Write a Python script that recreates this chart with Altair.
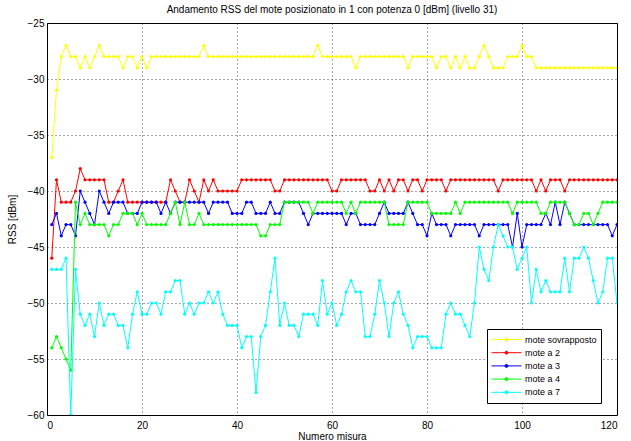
import altair as alt
import pandas as pd

misura = list(range(1, 121))

series_names = ["mote sovrapposto", "mote a 2", "mote a 3", "mote a 4", "mote a 7"]
series_colors = ["#ffff00", "#ff0000", "#0000ff", "#00ff00", "#00ffff"]

mote_sovrapposto = [
    -37, -31, -28, -27, -28, -28, -29, -28, -29, -28,
    -27, -28, -28, -28, -28, -29, -28, -28, -29, -28,
    -29, -28, -28, -28, -28, -28, -28, -28, -28, -28,
    -28, -28, -27, -28, -28, -28, -28, -28, -28, -28,
    -28, -28, -28, -28, -28, -28, -28, -28, -28, -28,
    -28, -28, -28, -28, -28, -28, -27, -28, -28, -28,
    -28, -28, -28, -28, -29, -28, -28, -28, -28, -28,
    -28, -28, -28, -28, -28, -29, -28, -28, -28, -28,
    -28, -29, -28, -28, -29, -28, -29, -28, -29, -29,
    -28, -27, -28, -29, -29, -29, -28, -28, -28, -27,
    -28, -28, -29, -29, -29, -29, -29, -29, -29, -29,
    -29, -29, -29, -29, -29, -29, -29, -29, -29, -29,
]

mote_a_2 = [
    -46, -39, -41, -41, -41, -40, -38, -39, -39, -39,
    -39, -39, -41, -41, -40, -39, -41, -41, -41, -41,
    -41, -41, -41, -41, -41, -39, -40, -41, -41, -39,
    -40, -41, -39, -40, -39, -40, -40, -40, -40, -40,
    -39, -39, -39, -39, -39, -39, -39, -40, -40, -39,
    -39, -39, -39, -39, -39, -39, -39, -39, -39, -40,
    -40, -39, -39, -39, -39, -39, -39, -40, -40, -39,
    -40, -39, -40, -39, -39, -40, -39, -39, -40, -39,
    -39, -39, -39, -40, -39, -39, -39, -39, -39, -39,
    -39, -39, -39, -39, -40, -39, -39, -39, -39, -39,
    -39, -39, -40, -39, -40, -39, -39, -39, -40, -39,
    -39, -39, -39, -39, -39, -39, -39, -39, -39, -39,
]

mote_a_3 = [
    -43, -42, -44, -43, -43, -44, -40, -41, -42, -43,
    -40, -41, -42, -41, -41, -41, -42, -42, -42, -41,
    -41, -41, -41, -42, -41, -42, -41, -41, -41, -41,
    -41, -41, -41, -42, -41, -41, -41, -41, -42, -42,
    -42, -41, -41, -42, -42, -42, -41, -42, -42, -41,
    -41, -41, -41, -42, -43, -42, -42, -42, -42, -42,
    -42, -42, -43, -42, -42, -43, -43, -43, -43, -42,
    -41, -42, -42, -42, -42, -41, -42, -43, -43, -44,
    -42, -43, -43, -43, -44, -43, -43, -43, -43, -43,
    -44, -43, -43, -43, -43, -43, -43, -45, -42, -45,
    -43, -43, -43, -43, -42, -43, -41, -43, -41, -42,
    -43, -43, -43, -43, -43, -43, -43, -43, -44, -43,
]

mote_a_4 = [
    -54, -53, -54, -55, -56, -41, -43, -42, -43, -43,
    -43, -43, -44, -43, -43, -42, -42, -42, -43, -42,
    -43, -43, -43, -43, -43, -42, -41, -43, -41, -43,
    -43, -42, -43, -43, -43, -43, -43, -43, -43, -43,
    -43, -43, -43, -43, -44, -44, -43, -43, -43, -41,
    -41, -41, -41, -41, -41, -42, -41, -41, -41, -41,
    -41, -41, -42, -41, -42, -41, -41, -41, -41, -41,
    -41, -43, -43, -43, -43, -41, -41, -41, -41, -41,
    -42, -42, -42, -42, -42, -41, -42, -41, -41, -41,
    -41, -41, -41, -41, -41, -41, -41, -42, -41, -41,
    -41, -41, -41, -42, -42, -41, -41, -41, -41, -42,
    -43, -43, -42, -42, -43, -42, -41, -41, -41, -41,
]

mote_a_7 = [
    -47, -47, -47, -46, -60, -47, -51, -52, -51, -53,
    -50, -52, -51, -51, -52, -52, -54, -51, -49, -51,
    -51, -50, -50, -51, -49, -49, -48, -48, -51, -50,
    -51, -50, -50, -49, -50, -49, -51, -52, -52, -52,
    -54, -53, -53, -58, -53, -52, -49, -46, -52, -50,
    -52, -52, -53, -51, -51, -51, -52, -48, -51, -50,
    -52, -51, -49, -48, -49, -49, -53, -53, -51, -48,
    -50, -53, -50, -49, -51, -52, -54, -53, -53, -53,
    -54, -54, -54, -51, -50, -51, -51, -52, -53, -50,
    -45, -47, -48, -45, -43, -44, -45, -45, -47, -46,
    -45, -50, -47, -49, -48, -49, -49, -49, -46, -49,
    -46, -46, -45, -46, -48, -50, -49, -46, -46, -50,
]

x_ticks = [0, 20, 40, 60, 80, 100, 120]
y_ticks = [-60, -55, -50, -45, -40, -35, -30, -25]

all_series = [mote_sovrapposto, mote_a_2, mote_a_3, mote_a_4, mote_a_7]
rows = []
for name, vals in zip(series_names, all_series):
    for m, v in zip(misura, vals):
        rows.append({"misura": m, "rss": v, "serie": name})
df = pd.DataFrame(rows)

legend_symbol = "M-1,0H1M-0.1,0A0.1,0.1,0,1,1,0.1,0A0.1,0.1,0,1,1,-0.1,0"

color_scale = alt.Scale(domain=series_names, range=series_colors)

x_enc = alt.X(
    "misura:Q",
    scale=alt.Scale(domain=[0, 120], nice=False, zero=False),
    axis=alt.Axis(values=x_ticks, title="Numero misura", labelPadding=5, titlePadding=1),
)
y_enc = alt.Y(
    "rss:Q",
    scale=alt.Scale(domain=[-60, -25], nice=False, zero=False),
    axis=alt.Axis(values=y_ticks, title="RSS [dBm]", labelPadding=3, titlePadding=10),
)

layers = []
for i, name in enumerate(series_names):
    base = alt.Chart(df).transform_filter(alt.datum.serie == name)
    line = base.mark_line(strokeWidth=1, clip=True).encode(
        x=x_enc,
        y=y_enc,
        color=alt.Color(
            "serie:N",
            scale=color_scale,
            legend=alt.Legend(
                title=None,
                orient="none",
                legendX=440,
                legendY=306,
                symbolType=legend_symbol,
                symbolSize=900,
                symbolStrokeWidth=1,
                clipHeight=13,
                labelFontSize=9,
                labelFont="Liberation Sans",
                labelOffset=3,
                rowPadding=0.2,
                padding=4,
                strokeColor="black",
                fillColor="white",
            ) if i == 0 else None,
        ),
        order=alt.Order("misura:Q"),
    )
    pts = base.mark_point(filled=True, size=10, shape="circle", opacity=1, clip=True).encode(
        x=x_enc,
        y=y_enc,
        color=alt.Color("serie:N", scale=color_scale, legend=None),
    )
    layers += [line, pts]

chart = (
    alt.layer(*layers)
    .properties(
        width=570,
        height=392,
        title=alt.TitleParams(
            "Andamento RSS del mote posizionato in 1 con potenza 0 [dBm] (livello 31)",
            fontSize=10,
            fontWeight="normal",
            font="Liberation Sans",
            offset=3,
            color="black",
        ),
        autosize=alt.AutoSizeParams(type="none"),
        padding={"left": 47, "top": 23, "right": 14, "bottom": 26},
        background="white",
    )
    .configure_view(stroke="black", strokeWidth=1)
    .configure_axis(
        domain=False,
        ticks=False,
        grid=True,
        gridColor="black",
        gridDash=[1, 3],
        gridOpacity=0.7,
        labelFont="Liberation Sans",
        labelFontSize=10,
        labelColor="black",
        titleFont="Liberation Sans",
        titleFontSize=10,
        titleFontWeight="normal",
        titleColor="black",
    )
)

chart.save("out.html", embed_options={"renderer": "svg", "actions": False})
